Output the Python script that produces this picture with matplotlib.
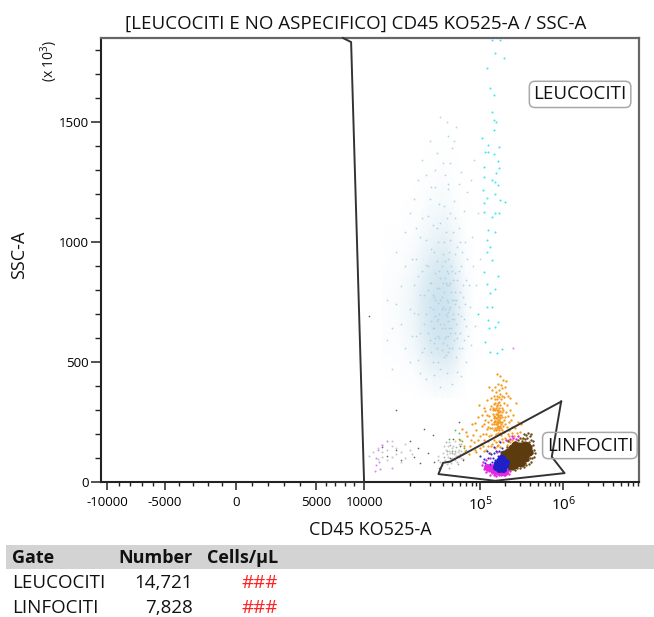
#!/usr/bin/env python
# flow cytometry dot plot: CD45 vs SSC with gates and a small stats table
import numpy as np
import matplotlib
matplotlib.use('Agg')
import matplotlib.pyplot as plt
from matplotlib.colors import LinearSegmentedColormap
from matplotlib.patches import Rectangle

plt.rcParams['font.family'] = ['Open Sans', 'DejaVu Sans']
plt.rcParams['mathtext.default'] = 'regular'

W, H = 654, 617

# axis ticks
x_major = [-10000, -5000, 0, 5000, 10000, 100000, 1000000]
x_labels = ['-10000', '-5000', '0', '5000', '10000', '10$^5$', '10$^6$']
x_minor = [-9000, -8000, -7000, -6000, -4000, -3000, -2000, -1000, 1000, 2000, 3000, 4000,
           6000, 7000, 8000, 9000, 20000, 30000, 40000, 50000, 60000, 70000, 80000, 90000,
           200000, 300000, 400000, 500000, 600000, 700000, 800000, 900000,
           2000000, 3000000, 4000000, 5000000, 6000000, 7000000, 8000000]
y_major = [0, 500, 1000, 1500]
y_minor = [100, 200, 300, 400, 600, 700, 800, 900, 1100, 1200, 1300, 1400, 1600, 1700, 1800]

# gates (CD45, SSC)
gate_leuco_x = [7800, 8650, 10000, 5000]
gate_leuco_y = [1850, 1833, 0, 0]
gate_linfo_x = [946000, 730000, 1040000, 152000, 36400, 40000, 47800, 946000]
gate_linfo_y = [335, 105, 37, 5, 33, 80, 85, 335]

# table
table_gates = ['LEUCOCITI', 'LINFOCITI']
table_numbers = ['14,721', '7,828']
table_cells = ['###', '###']

# density of the pale blue cloud, read by eye (CD45 in thousands, SSC)
cloud_x = [14, 18, 22, 26, 30, 35, 40, 46, 52, 60, 70, 85, 110]
cloud_y = [350, 450, 550, 650, 750, 850, 950, 1050, 1150, 1250, 1350, 1500]
cloud_d = [
    [0, 0, 0, .02, .05, .08, .08, .08, .05, .03, 0, 0, 0],
    [0, .02, .08, .18, .30, .38, .40, .38, .28, .15, .05, 0, 0],
    [.02, .08, .22, .48, .70, .82, .85, .82, .65, .35, .12, .02, 0],
    [.03, .14, .35, .65, .88, 1, 1, .95, .80, .48, .18, .04, 0],
    [.04, .16, .38, .68, .90, 1, 1, .95, .80, .48, .18, .04, 0],
    [.03, .12, .30, .55, .78, .90, .92, .85, .65, .38, .14, .03, 0],
    [.01, .06, .18, .35, .52, .62, .68, .60, .42, .22, .08, .01, 0],
    [0, .02, .08, .18, .30, .38, .42, .38, .25, .12, .04, 0, 0],
    [0, 0, .03, .08, .15, .20, .24, .20, .12, .05, .02, 0, 0],
    [0, 0, .01, .03, .06, .09, .11, .09, .05, .02, 0, 0, 0],
    [0, 0, 0, 0, .02, .03, .04, .03, .02, 0, 0, 0, 0],
    [0, 0, 0, 0, 0, 0, 0, 0, 0, 0, 0, 0, 0],
]

# dots (CD45 in thousands, SSC)
blue_pts = [
    (16, 640), (18, 815), (19, 560), (21, 930), (22, 705), (23, 610), (24, 860), (25, 1020), (26, 540), (27, 780),
    (27, 660), (28, 905), (29, 1110), (30, 590), (30, 730), (31, 830), (31, 1230), (32, 500), (32, 640), (33, 960),
    (33, 770), (34, 690), (34, 870), (35, 1060), (35, 560), (36, 610), (36, 745), (37, 810), (37, 1160), (38, 470),
    (38, 660), (39, 900), (39, 720), (40, 1330), (40, 580), (41, 790), (41, 1000), (42, 640), (42, 850), (43, 530),
    (43, 700), (44, 1100), (44, 760), (45, 610), (45, 930), (46, 1240), (46, 670), (47, 820), (47, 560), (48, 730),
    (48, 1010), (49, 640), (50, 880), (50, 1390), (51, 700), (52, 590), (52, 1170), (53, 790), (54, 950), (55, 660),
    (55, 520), (56, 840), (58, 730), (59, 1060), (60, 620), (61, 900), (63, 560), (64, 770), (66, 680), (68, 1000),
    (70, 840), (73, 610), (76, 730), (82, 900), (88, 650), (95, 1120), (62, 1290), (45, 1440), (35, 1370), (28, 1280),
    (22, 1180), (55, 1480), (38, 1520), (16, 470), (15, 760), (19, 1040), (72, 1210), (84, 1340), (33, 640), (37, 700),
    (41, 660), (44, 690), (47, 640), (35, 810), (39, 770), (43, 830), (46, 750), (32, 720), (50, 760), (36, 680),
    (40, 730), (42, 600), (34, 600), (38, 850), (44, 880), (48, 830), (31, 670), (29, 800), (52, 680), (54, 740),
    (20, 720), (21, 610), (22, 820), (23, 930), (24, 510), (24, 700), (25, 620), (25, 780), (26, 880), (26, 1100),
    (27, 560), (28, 700), (28, 1010), (29, 620), (29, 900), (30, 830), (30, 1180), (31, 540), (31, 970), (32, 780),
    (32, 1070), (33, 580), (34, 760), (34, 1230), (35, 920), (35, 670), (36, 500), (36, 1000), (37, 600), (37, 880),
    (38, 760), (38, 1080), (39, 550), (39, 640), (40, 830), (40, 950), (41, 520), (41, 1150), (42, 720), (42, 920),
    (43, 610), (43, 1040), (44, 820), (44, 570), (45, 710), (45, 1220), (46, 870), (46, 540), (47, 960), (47, 720),
    (48, 620), (48, 1120), (49, 790), (49, 900), (50, 560), (50, 680), (51, 1040), (51, 840), (52, 760), (53, 620),
    (53, 1100), (54, 870), (55, 760), (56, 600), (56, 980), (57, 700), (58, 880), (59, 560), (60, 790), (60, 1000),
    (62, 690), (63, 960), (65, 820), (66, 590), (68, 740), (70, 650), (72, 930), (75, 820), (78, 570), (80, 1020),
    (19, 900), (18, 660), (17, 740), (15, 590), (17, 960), (20, 1120), (23, 1060), (24, 1260), (26, 1340), (30, 1420),
    (34, 1300), (42, 1280), (48, 1330), (52, 1420), (58, 1240), (66, 1130), (90, 820), (100, 930), (78, 1260), (44, 1500),
    (25, 455), (28, 430), (33, 445), (38, 395), (44, 455), (50, 410), (56, 460), (62, 440), (70, 500), (20, 500),
]
cyan_pts = [
    (138, 1841), (175, 1841), (151, 1786), (192, 1765), (122, 1723), (132, 1640), (147, 1612), (138, 1543), (145, 1508), (156, 1501),
    (147, 1466), (105, 1432), (125, 1404), (171, 1394), (115, 1376), (125, 1376), (145, 1366), (166, 1339), (110, 1314), (171, 1307),
    (156, 1286), (112, 1272), (138, 1258), (151, 1251), (166, 1237), (108, 1216), (120, 1182), (151, 1202), (201, 1168), (110, 1161),
    (175, 1175), (112, 1126), (138, 1105), (151, 1119), (171, 1122), (125, 1050), (151, 1043), (122, 1008), (132, 980), (120, 959),
    (138, 925), (110, 876), (166, 858), (120, 827), (151, 806), (132, 786), (120, 730), (138, 730), (95, 702), (125, 675),
    (166, 668), (128, 640), (151, 647), (115, 584), (132, 543), (159, 536), (183, 556),
]
orange_pts = [
    (152, 270), (160, 300), (148, 240), (170, 260), (165, 330), (142, 285), (175, 295), (155, 215), (185, 250), (135, 260),
    (158, 360), (145, 325), (168, 225), (178, 345), (130, 305), (190, 300), (150, 190), (162, 250), (172, 280), (140, 225),
    (155, 285), (165, 275), (148, 305), (160, 240), (170, 310), (153, 255), (145, 265), (175, 235), (158, 320), (163, 205),
    (120, 280), (125, 230), (115, 260), (110, 310), (128, 190), (135, 350), (122, 340), (105, 235), (118, 200), (112, 175),
    (200, 270), (210, 320), (195, 210), (220, 250), (205, 370), (185, 390), (230, 300), (215, 200), (240, 230), (250, 280),
    (165, 410), (150, 395), (175, 440), (160, 450), (190, 425), (140, 385), (128, 395), (205, 420), (270, 330), (300, 210),
    (95, 270), (90, 215), (85, 165), (80, 240), (72, 190), (68, 130), (60, 175), (57, 110), (63, 220), (75, 115),
    (100, 140), (110, 130), (125, 150), (140, 160), (150, 140), (170, 170), (190, 165), (210, 155), (240, 175), (260, 165),
    (90, 125), (82, 195), (100, 190), (130, 120), (155, 165), (180, 195), (225, 190), (285, 250), (320, 180), (98, 320),
    (152, 345), (168, 355), (160, 265), (150, 255), (158, 230), (146, 250), (165, 290), (172, 250), (155, 310), (143, 300),
    (138, 240), (142, 310), (146, 215), (148, 275), (150, 330), (151, 225), (153, 300), (154, 240), (156, 265), (157, 200),
    (158, 285), (159, 250), (161, 220), (161, 315), (162, 280), (163, 235), (164, 260), (165, 245), (166, 300), (167, 215),
    (168, 270), (169, 335), (170, 230), (171, 290), (172, 205), (173, 265), (174, 320), (176, 250), (177, 225), (178, 280),
    (180, 240), (181, 310), (183, 270), (184, 215), (186, 290), (188, 235), (192, 260), (195, 330), (198, 240), (203, 290),
    (132, 225), (128, 275), (134, 315), (136, 195), (124, 250), (120, 220), (116, 295), (112, 240), (108, 200), (104, 280),
    (210, 230), (216, 275), (222, 215), (228, 350), (235, 260), (245, 205), (255, 190), (265, 225), (280, 205), (310, 240),
    (148, 360), (155, 375), (160, 345), (168, 385), (172, 365), (178, 405), (182, 360), (192, 355), (200, 395), (215, 360),
    (76, 150), (86, 135), (94, 175), (102, 160), (108, 150), (118, 135), (126, 170), (134, 150), (145, 175), (158, 150),
    (165, 155), (175, 145), (185, 180), (200, 185), (218, 175), (230, 165), (66, 150), (70, 210), (78, 175), (88, 245),
]
grey_pts = [
    (41, 105), (44, 130), (46, 85), (48, 155), (50, 120), (52, 100), (55, 145), (57, 75), (60, 115), (62, 160),
    (39, 70), (36, 90), (65, 95), (43, 165), (70, 135), (47, 60), (53, 130), (58, 105),
]
dark_pts = [
    (14, 145), (15, 110), (17, 135), (20, 170), (22, 105), (24, 140), (27, 220), (29, 120), (32, 195), (17, 300),
    (33, 85), (37, 60), (51, 180), (58, 250), (48, 100), (60, 150), (65, 90), (11, 690), (18, 90), (25, 80),
]
pale_pts = [
    (11, 110), (12, 125), (13, 95), (13, 140), (14, 125), (15, 90), (16, 150), (15, 135), (14, 105), (17, 115),
    (44, 115), (47, 130), (49, 95), (51, 150), (54, 120), (56, 85), (59, 135), (45, 150), (42, 90), (61, 100),
    (16, 105), (17, 140), (18, 125), (19, 100), (20, 135), (21, 115), (18, 85), (16, 170), (14, 155), (19, 160),
    (46, 105), (48, 120), (50, 140), (52, 115), (53, 90), (55, 110), (57, 125), (58, 160), (43, 135), (40, 120),
    (50, 100), (47, 165), (54, 170), (62, 130), (38, 85), (44, 75), (49, 80), (64, 120), (36, 110), (41, 150),
]
violet_pts = [
    (12.5, 70), (13, 135), (12.7, 100), (13.5, 55), (14, 155), (13.3, 85), (15, 170), (12.4, 45), (16, 60), (250, 560),
]
green_pts = [(50, 130), (54, 215), (58, 180), (63, 170), (66, 140), (47, 180), (59, 205)]
magenta_pts = [
    (110, 55), (118, 40), (125, 68), (130, 30), (135, 50), (140, 72), (145, 38), (150, 58), (155, 25), (160, 45),
    (165, 70), (170, 35), (175, 55), (180, 28), (185, 48), (190, 38), (200, 30), (210, 42), (220, 35), (105, 70),
    (128, 45), (142, 55), (152, 35), (162, 60), (172, 48), (182, 60), (195, 50), (205, 55), (230, 45), (240, 65),
    (240, 190), (205, 175), (270, 180), (160, 125), (130, 100), (115, 62), (122, 52), (138, 38), (148, 30), (158, 32),
    (168, 28), (178, 38), (192, 28), (215, 52), (225, 60), (108, 85), (118, 90), (250, 185), (290, 190), (230, 180),
]
magenta_core = [(132, 60), (142, 48), (152, 50), (162, 46), (172, 44), (185, 42), (198, 40), (150, 66), (122, 62)]
blue_dark_pts = [
    (110, 95), (120, 130), (130, 75), (135, 115), (145, 145), (150, 90), (155, 130), (160, 70), (165, 110), (175, 165),
    (180, 60), (185, 140), (195, 70), (205, 60), (125, 100), (140, 85), (170, 85), (215, 65), (100, 110), (190, 115),
    (115, 80), (128, 120), (142, 100), (148, 120), (158, 95), (168, 130), (178, 125), (155, 75), (200, 125), (225, 55),
]
blue_core = [(160, 80), (168, 66), (175, 90), (180, 62), (190, 84), (178, 102), (200, 70), (168, 55), (155, 62), (190, 55), (185, 100), (205, 85)]
brown_core = [
    (205, 80), (215, 95), (230, 90), (245, 100), (260, 110), (275, 120), (290, 130), (305, 140), (320, 148), (340, 145),
    (240, 78), (265, 88), (285, 100), (310, 115), (330, 125), (350, 135), (225, 105), (250, 125), (270, 140), (295, 152),
    (200, 100), (300, 92), (325, 102), (360, 118), (255, 72), (280, 80), (380, 140), (230, 118), (215, 125), (240, 140),
    (265, 155), (345, 155), (370, 150), (350, 100), (390, 125), (310, 80), (235, 65), (195, 115),
]
brown_pts = [
    (180, 75), (195, 120), (210, 145), (235, 150), (260, 165), (290, 175), (320, 172), (350, 178), (385, 165), (410, 150),
    (420, 120), (400, 100), (375, 90), (345, 80), (310, 70), (280, 58), (250, 55), (225, 60), (440, 135), (370, 185),
    (300, 185), (405, 85), (335, 62), (450, 105), (215, 170), (375, 205), (340, 200), (430, 170), (395, 190), (415, 175),
    (360, 195), (325, 185), (425, 100), (385, 75), (355, 70), (300, 60), (265, 50), (460, 120), (435, 155), (405, 200),
]


# x axis is linear around zero and then log, positions taken from the tick spacing
scale_vals = [-10500, -10000, -5000, 0, 5000, 10000, 20000, 30000, 40000, 50000, 60000, 70000, 80000, 90000, 100000]
scale_pos = [101, 107, 165, 236, 316, 364, 410, 430, 443, 452, 460, 466, 472, 476, 480]


def fwd(v):
    v = np.asarray(v, dtype=float)
    return np.where(v < 1e5, np.interp(v, scale_vals, scale_pos),
                    480 + 83 * np.log10(np.maximum(v, 1e5) / 1e5))


def inv(p):
    p = np.asarray(p, dtype=float)
    return np.where(p < 480, np.interp(p, scale_pos, scale_vals),
                    1e5 * 10 ** ((np.maximum(p, 480) - 480) / 83))


def dots(ax, pts, color, size=1.0, alpha=1.0):
    arr = np.array(pts, dtype=float)
    ax.scatter(arr[:, 0] * 1000, arr[:, 1], s=size, c=color, alpha=alpha, linewidths=0, zorder=3)


fig = plt.figure(figsize=(W / 100, H / 100), dpi=100)
ax = fig.add_axes([101 / W, 1 - 482 / H, (639 - 101) / W, (482 - 38) / H])
ax.set_xscale('function', functions=(fwd, inv))
ax.set_xlim(-10500, 8.2e6)
ax.set_ylim(0, 1850)

cloud_cmap = LinearSegmentedColormap.from_list('cloud', ['#ffffff', '#cfe4ef'])
ax.pcolormesh(np.array(cloud_x) * 1000.0, cloud_y, np.array(cloud_d), cmap=cloud_cmap,
              vmin=0, vmax=1, shading='gouraud', zorder=1, rasterized=True)

dots(ax, blue_pts, '#a6cfe2', size=1.6, alpha=0.85)
dots(ax, cyan_pts, '#3fe8f0', size=2.2)
dots(ax, pale_pts, '#c8c8c8', size=2.2)
dots(ax, grey_pts, '#a8a8a8', size=1.6)
dots(ax, dark_pts, '#606060', size=1.4)
dots(ax, violet_pts, '#d890ee', size=2.2)
dots(ax, orange_pts, '#f6991f', size=2.8)
dots(ax, green_pts, '#55c055', size=1.8)
dots(ax, magenta_pts, '#e428e0', size=3.0)
dots(ax, magenta_core, '#e428e0', size=26)
dots(ax, blue_dark_pts, '#2a2ad0', size=2.4)
dots(ax, brown_pts, '#6a4a1c', size=3.0)
dots(ax, brown_core, '#5c3c0e', size=34)
dots(ax, blue_core, '#2020c8', size=26)

# gates
ax.plot(gate_leuco_x, gate_leuco_y, color='#333333', lw=1.4, clip_on=False, zorder=5)
ax.plot(gate_linfo_x, gate_linfo_y, color='#333333', lw=1.4, clip_on=False, zorder=5)

label_box = dict(boxstyle='round,pad=0.22,rounding_size=0.3', fc='none', ec='#a8a8a8', lw=1.1)
ax.text(1.6e6, 1615, 'LEUCOCITI', fontsize=13.5, ha='center', va='center', bbox=label_box, zorder=6, color='#111111')
ax.text(2.1e6, 152, 'LINFOCITI', fontsize=13.5, ha='center', va='center', bbox=label_box, zorder=6, color='#111111')

# axes look
for side in ['left', 'bottom']:
    ax.spines[side].set_linewidth(1.5)
    ax.spines[side].set_color('#222222')
for side in ['top', 'right']:
    ax.spines[side].set_linewidth(1.6)
    ax.spines[side].set_color('#666666')

ax.set_xticks(x_major)
ax.set_xticklabels(x_labels)
ax.set_xticks(x_minor, minor=True)
ax.set_yticks(y_major)
ax.set_yticks(y_minor, minor=True)
ax.tick_params(axis='x', which='major', length=6, width=1.1, labelsize=9.5, pad=4, color='#222222')
ax.tick_params(axis='x', which='minor', length=3, width=1.0, color='#222222')
ax.tick_params(axis='y', which='major', length=7, width=1.1, labelsize=9.5, pad=2, color='#222222')
ax.tick_params(axis='y', which='minor', length=4, width=1.0, color='#222222')
for lab in ax.get_xticklabels()[-2:]:
    lab.set_fontsize(11)


def ftext(x, y, s, **kw):
    fig.text(x / W, 1 - y / H, s, **kw)


ftext(356, 24, '[LEUCOCITI E NO ASPECIFICO] CD45 KO525-A / SSC-A', fontsize=13.5, ha='center', va='center', color='#111111')
ftext(370, 530, 'CD45 KO525-A', fontsize=13, ha='center', va='center', color='#111111')
ftext(19, 255, 'SSC-A', fontsize=13, rotation=90, ha='center', va='center', color='#111111')
ftext(49, 61, '(x 10$^3$)', fontsize=10, rotation=90, ha='center', va='center', color='#111111')

# stats table under the plot
fig.add_artist(Rectangle((6 / W, 1 - 569 / H), (W - 6) / W, 24 / H, transform=fig.transFigure,
                         fc='#d3d3d3', ec='none'))
ftext(12, 558, 'Gate', fontsize=13, fontweight='bold', ha='left', va='center', color='#111111')
ftext(118, 558, 'Number', fontsize=13, fontweight='bold', ha='left', va='center', color='#111111')
ftext(278, 558, 'Cells/µL', fontsize=13, fontweight='bold', ha='right', va='center', color='#111111')
for row_y, gate, number, cells in zip([583, 608], table_gates, table_numbers, table_cells):
    ftext(12, row_y, gate, fontsize=13.5, ha='left', va='center', color='#111111')
    ftext(193, row_y, number, fontsize=13.5, ha='right', va='center', color='#111111')
    ftext(278, row_y, cells, fontsize=13.5, ha='right', va='center', color='#ff2020')

fig.savefig('out.png', dpi=100)
